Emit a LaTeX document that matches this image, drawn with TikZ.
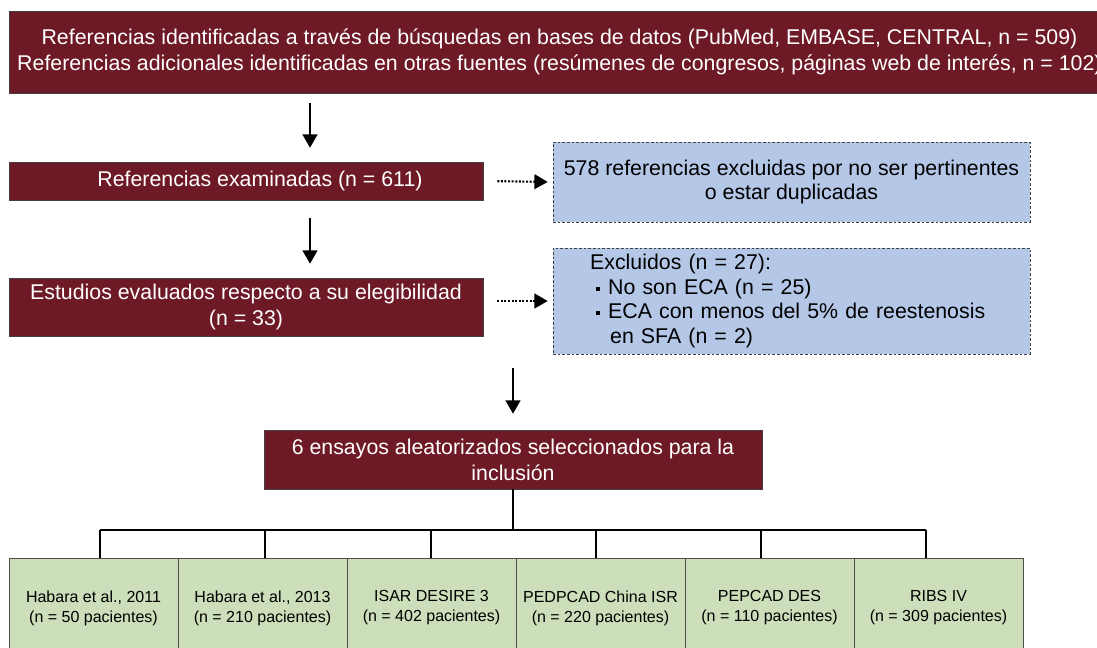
\documentclass[tikz,border=0pt]{standalone}
\usepackage{fontspec}
\setmainfont{Liberation Sans}
\usetikzlibrary{arrows.meta}
\definecolor{granate}{HTML}{6E1A26}
\definecolor{azul}{HTML}{B4C7E7}
\definecolor{verde}{HTML}{CDDEBA}

\begin{document}
\begin{tikzpicture}[x=0.75pt, y=-0.75pt, inner sep=0pt]
  \useasboundingbox (0,0) rectangle (1097,648);

  \tikzstyle{rojo}=[draw=black!75, fill=granate, text=white, align=center, font=\fontsize{16}{19.5}\selectfont];
  \tikzstyle{excl}=[draw=black!75, dash pattern=on 2pt off 1.5pt, fill=azul, minimum width=357.75pt, font=\fontsize{16}{18.5}\selectfont];
  \tikzstyle{est}=[draw=black!70, fill=verde, minimum width=126.75pt, minimum height=75pt, align=center, font=\fontsize{12}{15}\selectfont];
  \tikzstyle{flecha}=[line width=1.8pt, -{Triangle[length=10pt,width=11pt]}];
  \tikzstyle{punteada}=[line width=1.6pt, dash pattern=on 1.5pt off 1.2pt, -{Triangle[length=10pt,width=11pt]}];
  \tikzstyle{rama}=[line width=1.5pt];

  \node[rojo, minimum width=825.75pt, minimum height=61.5pt] (refs) at (559.5,52)
    {Referencias identificadas a través de búsquedas en bases de datos (PubMed, EMBASE, CENTRAL, n = 509)\\
     Referencias adicionales identificadas en otras fuentes (resúmenes de congresos, páginas web de interés, n = 102)};
  \node[rojo, minimum width=355.5pt, minimum height=28.5pt] (exam) at (246,181) {\hspace*{21pt}Referencias examinadas (n = 611)};
  \node[rojo, minimum width=355.5pt, minimum height=43.5pt] (elig) at (246,307)
    {Estudios evaluados respecto a su elegibilidad\\(n = 33)};
  \node[rojo, minimum width=373.5pt, minimum height=44.25pt] (incl) at (513,459.5)
    {6 ensayos aleatorizados seleccionados para la\\inclusión};

  \node[excl, minimum height=60pt, align=center] (excl1) at (791.5,182)
    {578 referencias excluidas por no ser pertinentes\\o estar duplicadas};
  \node[excl, minimum height=79.5pt, text width=302pt, align=left] (excl2) at (791.5,301)
    {Excluidos (n = 27):\\
     \hspace*{4.5pt}\rule[0.3ex]{3pt}{3pt}\hspace{6pt}No son ECA (n = 25)\\
     \hspace*{4.5pt}\rule[0.3ex]{3pt}{3pt}\hspace{6pt}ECA con menos del 5\% de reestenosis\\
     \hspace*{15pt}en SFA (n = 2)};

  \coordinate (c1) at (310,0);
  \coordinate (c3) at (513,368);
  \draw[flecha, shorten <=7.5pt, shorten >=10.5pt] (refs.south -| c1) -- (exam.north -| c1);
  \draw[flecha, shorten <=13.5pt, shorten >=10.5pt] (exam.south -| c1) -- (elig.north -| c1);
  \draw[flecha, shorten >=12pt] (c3) -- (incl.north);
  \draw[punteada, shorten <=10.5pt, shorten >=3.75pt] (exam.east) -- (excl1.west);
  \draw[punteada, shorten <=10.5pt, shorten >=3.75pt] (elig.east |- excl2.west) -- (excl2.west);

  \foreach \i/\x/\nombre/\n in {1/100/{Habara et al., 2011}/50, 2/265/{Habara et al., 2013}/210,
      3/431/{ISAR DESIRE 3}/402, 4/596/{PEDPCAD China ISR}/220,
      5/761/{PEPCAD DES}/110, 6/926/{RIBS IV}/309} {
    \node[est] (s\i) at ({9+169*(\i-0.5)},608) {\nombre\\(n = \n\ pacientes)};
    \coordinate (d\i) at (\x,530);
    \draw[rama] (d\i) -- (d\i |- s\i.north);
  }
  \draw[rama] (d1) -- (d6);
  \draw[rama] (incl.south) -- (incl.south |- d1);
\end{tikzpicture}
\end{document}
